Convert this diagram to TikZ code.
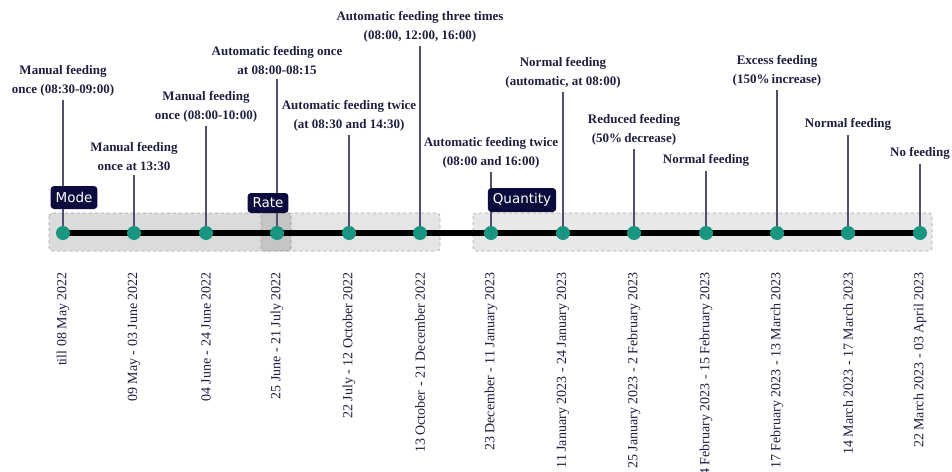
\documentclass[tikz,border=0pt]{standalone}
\usepackage{fontspec}
\setmainfont{Liberation Serif}
\newfontfamily\tagfont{DejaVu Sans}
\definecolor{tagnavy}{HTML}{0B0B3D}
\definecolor{dotteal}{HTML}{1A9582}
\definecolor{stemgray}{HTML}{4F4F6E}
\definecolor{txtnavy}{HTML}{1F1F3F}
\tikzset{
	dot/.style={circle,fill=dotteal,minimum size=14pt,inner sep=0pt},
	lbl/.style={anchor=south,align=center,inner sep=4pt,text=txtnavy,font=\fontsize{13}{19}\selectfont\bfseries},
	stem/.style={draw=stemgray,line width=1.2pt},
	tag/.style={fill=tagnavy,text=white,rounded corners=3.5pt,inner xsep=5pt,inner ysep=3pt,minimum height=23pt,font=\tagfont\fontsize{13.5}{15}\selectfont},
	grp/.style={draw=gray!70,dashed,rounded corners=3pt,line width=0.6pt},
	date/.style={rotate=90,anchor=east,inner sep=0pt,text=txtnavy,font=\fontsize{14}{16}\selectfont}
}
\begin{document}
\begin{tikzpicture}[x=1pt,y=1pt]
	\useasboundingbox (0,0) rectangle (952,-471);
	% groups
	\draw[grp,fill=black,fill opacity=0.14] (49,-213) rectangle (291,-251);
	\draw[grp,fill=black,fill opacity=0.10] (261,-213) rectangle (440,-251);
	\draw[grp,fill=black,fill opacity=0.09] (473,-213) rectangle (932,-251);
	% timeline
	\coordinate (t0) at (63,-233);
	\coordinate (t1) at (920,-233);
	\draw[line width=6pt] (t0)--(t1);
	\node[dot] (d1) at (63,-233) {};
	\node[dot] (d2) at (134,-233) {};
	\node[dot] (d3) at (206,-233) {};
	\node[dot] (d4) at (277,-233) {};
	\node[dot] (d5) at (349,-233) {};
	\node[dot] (d6) at (420,-233) {};
	\node[dot] (d7) at (491,-233) {};
	\node[dot] (d8) at (563,-233) {};
	\node[dot] (d9) at (634,-233) {};
	\node[dot] (d10) at (706,-233) {};
	\node[dot] (d11) at (777,-233) {};
	\node[dot] (d12) at (848,-233) {};
	\node[dot] (d13) at (920,-233) {};
	% events
	\node[lbl] (l1) at (63,-100) {Manual feeding\\once (08:30-09:00)};
	\node[lbl] (l2) at (134,-175) {Manual feeding\\once at 13:30};
	\node[lbl] (l3) at (206,-126) {Manual feeding\\once (08:00-10:00)};
	\node[lbl] (l4) at (277,-79) {Automatic feeding once\\at 08:00-08:15};
	\node[lbl] (l5) at (349,-135) {Automatic feeding twice\\(at 08:30 and 14:30)};
	\node[lbl] (l6) at (420,-46) {Automatic feeding three times\\(08:00, 12:00, 16:00)};
	\node[lbl] (l7) at (491,-172) {Automatic feeding twice\\(08:00 and 16:00)};
	\node[lbl] (l8) at (563,-92) {Normal feeding\\(automatic, at 08:00)};
	\node[lbl] (l9) at (634,-149) {Reduced feeding\\(50\%\,decrease)};
	\node[lbl] (l10) at (706,-171) {Normal feeding};
	\node[lbl] (l11) at (777,-90) {Excess feeding\\(150\%\,increase)};
	\node[lbl] (l12) at (848,-135) {Normal feeding};
	\node[lbl] (l13) at (920,-164) {No feeding};
	\draw[stem] (l1)--(d1);
	\draw[stem] (l2)--(d2);
	\draw[stem] (l3)--(d3);
	\draw[stem] (l4)--(d4);
	\draw[stem] (l5)--(d5);
	\draw[stem] (l6)--(d6);
	\draw[stem] (l7)--(d7);
	\draw[stem] (l8)--(d8);
	\draw[stem] (l9)--(d9);
	\draw[stem] (l10)--(d10);
	\draw[stem] (l11)--(d11);
	\draw[stem] (l12)--(d12);
	\draw[stem] (l13)--(d13);
	% tags
	\node[tag] (mode) at (74,-197.5) {Mode};
	\node[tag,minimum height=20pt] (rate) at (268,-203) {Rate};
	\node[tag,minimum height=24pt] (quantity) at (522,-200) {Quantity};
	% dates
	\node[date] (p1) at (63,-272) {till 08 May 2022};
	\node[date] (p2) at (134,-272) {09 May - 03 June 2022};
	\node[date] (p3) at (206,-272) {04 June - 24 June 2022};
	\node[date] (p4) at (277,-272) {25 June - 21 July 2022};
	\node[date] (p5) at (349,-272) {22 July - 12 October 2022};
	\node[date] (p6) at (420,-272) {13 October - 21 December 2022};
	\node[date] (p7) at (491,-272) {23 December - 11 January 2023};
	\node[date] (p8) at (563,-272) {11 January 2023 - 24 January 2023};
	\node[date] (p9) at (634,-272) {25 January 2023 - 2 February 2023};
	\node[date] (p10) at (706,-272) {14 February 2023 - 15 February 2023};
	\node[date] (p11) at (777,-272) {17 February 2023 - 13 March 2023};
	\node[date] (p12) at (848,-272) {14 March 2023 - 17 March 2023};
	\node[date] (p13) at (920,-272) {22 March 2023 - 03 April 2023};
\end{tikzpicture}
\end{document}
